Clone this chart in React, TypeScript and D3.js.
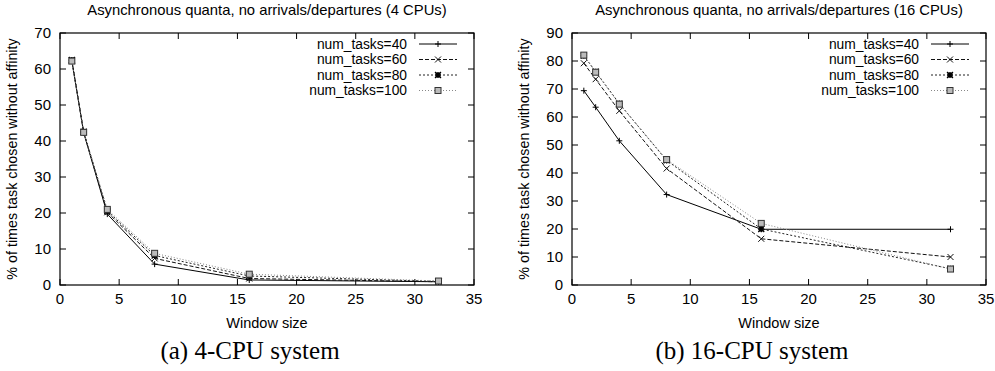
import * as d3 from "d3"

// window sizes on the x axis
const windowSizes = [1, 2, 4, 8, 16, 32]
const taskLabels = ["num_tasks=40", "num_tasks=60", "num_tasks=80", "num_tasks=100"]

// 4 CPUs
const cpu4Tasks40 = [62.3, 42.3, 19.7, 5.8, 1.4, 0.9]
const cpu4Tasks60 = [62.4, 42.5, 20.2, 7.4, 1.8, 0.9]
const cpu4Tasks80 = [62.5, 42.6, 20.6, 8.2, 2.5, 1.0]
const cpu4Tasks100 = [62.2, 42.4, 21.0, 8.8, 3.0, 1.1]

// 16 CPUs
const cpu16Tasks40 = [69.4, 63.5, 51.5, 32.3, 19.9, 19.9]
const cpu16Tasks60 = [79.2, 73.5, 62.2, 41.6, 16.5, 10.0]
const cpu16Tasks80 = [81.9, 76.2, 64.8, 44.5, 20.0, 5.8]
const cpu16Tasks100 = [82.1, 76.0, 64.6, 44.8, 22.0, 5.7]

const xTicks = [0, 5, 10, 15, 20, 25, 30, 35]
const yTicks4 = [0, 10, 20, 30, 40, 50, 60, 70]
const yTicks16 = [0, 10, 20, 30, 40, 50, 60, 70, 80, 90]

const sans = "'Liberation Sans', Arial, Helvetica, sans-serif"
const serif = "'Liberation Serif', 'Times New Roman', serif"

const styles = [
  { stroke: "#000", dash: "none", marker: "plus" },
  { stroke: "#111", dash: "4,2", marker: "cross" },
  { stroke: "#222", dash: "2,2", marker: "star" },
  { stroke: "#888", dash: "1,2", marker: "box" },
]

function Marker({ kind, x, y, color }: { kind: string; x: number; y: number; color: string }) {
  const s = 3
  if (kind === "plus")
    return <path d={`M${x - s},${y}H${x + s}M${x},${y - s}V${y + s}`} stroke={color} strokeWidth={1} />
  if (kind === "cross")
    return <path d={`M${x - s},${y - s}L${x + s},${y + s}M${x - s},${y + s}L${x + s},${y - s}`} stroke={color} strokeWidth={1} />
  if (kind === "star")
    return (
      <g>
        <rect x={x - 2.5} y={y - 2.5} width={5} height={5} fill="#222" />
        <path
          d={`M${x - s},${y}H${x + s}M${x},${y - s}V${y + s}M${x - s},${y - s}L${x + s},${y + s}M${x - s},${y + s}L${x + s},${y - s}`}
          stroke="#000"
          strokeWidth={1.2}
        />
      </g>
    )
  return <rect x={x - s} y={y - s} width={2 * s} height={2 * s} fill="#bbb" stroke="#333" strokeWidth={1} />
}

interface PanelProps {
  left: number
  series: number[][]
  yTicks: number[]
  title: string
  caption: string
  captionX: number
}

function Panel({ left, series, yTicks, title, caption, captionX }: PanelProps) {
  const top = 33
  const bottom = 285
  const right = left + 414
  const tick = 6

  const x = d3.scaleLinear().domain([0, 35]).range([left, right])
  const y = d3.scaleLinear().domain([0, yTicks[yTicks.length - 1]]).range([bottom, top])

  const line = d3
    .line<number>()
    .x((_, i) => x(windowSizes[i]))
    .y(d => y(d))

  const midX = (left + right) / 2

  return (
    <g>
      <text x={midX} y={15} textAnchor="middle" fontFamily={sans} fontSize={14.8}>
        {title}
      </text>

      {/* ticks, mirrored on all sides */}
      {yTicks.map(t => (
        <g key={"y" + t}>
          <line x1={left} x2={left + tick} y1={y(t)} y2={y(t)} stroke="#000" />
          <line x1={right} x2={right - tick} y1={y(t)} y2={y(t)} stroke="#000" />
          <text x={left - 9} y={y(t) + 5} textAnchor="end" fontFamily={sans} fontSize={15}>
            {t}
          </text>
        </g>
      ))}
      {xTicks.map(t => (
        <g key={"x" + t}>
          <line x1={x(t)} x2={x(t)} y1={bottom} y2={bottom - tick} stroke="#000" />
          <line x1={x(t)} x2={x(t)} y1={top} y2={top + tick} stroke="#000" />
          <text x={x(t)} y={304} textAnchor="middle" fontFamily={sans} fontSize={15}>
            {t}
          </text>
        </g>
      ))}

      <rect x={left} y={top} width={right - left} height={bottom - top} fill="none" stroke="#000" strokeWidth={1.2} />

      <text x={midX} y={328} textAnchor="middle" fontFamily={sans} fontSize={14.5}>
        Window size
      </text>
      <text
        transform={`translate(${left - 43},${(top + bottom) / 2}) rotate(-90)`}
        textAnchor="middle"
        fontFamily={sans}
        fontSize={14.3}
      >
        % of times task chosen without affinity
      </text>

      {series.map((vals, si) => (
        <g key={si}>
          <path d={line(vals) || ""} fill="none" stroke={styles[si].stroke} strokeWidth={1} strokeDasharray={styles[si].dash} />
          {vals.map((v, i) => (
            <Marker key={i} kind={styles[si].marker} x={x(windowSizes[i])} y={y(v)} color={styles[si].stroke} />
          ))}
        </g>
      ))}

      {/* legend */}
      {taskLabels.map((label, i) => {
        const ly = 44 + i * 15.5
        return (
          <g key={label}>
            <text x={right - 67} y={ly + 4.5} textAnchor="end" fontFamily={sans} fontSize={13.8}>
              {label}
            </text>
            <line x1={right - 55} x2={right - 17} y1={ly} y2={ly} stroke={styles[i].stroke} strokeDasharray={styles[i].dash} />
            <Marker kind={styles[i].marker} x={right - 36} y={ly} color={styles[i].stroke} />
          </g>
        )
      })}

      <text x={captionX} y={359} textAnchor="middle" fontFamily={serif} fontSize={25}>
        {caption}
      </text>
    </g>
  )
}

export default function App() {
  return (
    <svg width={995} height={371} style={{ position: "absolute", left: 0, top: 0, background: "#fff" }}>
      <rect width={995} height={371} fill="#fff" />
      <Panel
        left={60}
        series={[cpu4Tasks40, cpu4Tasks60, cpu4Tasks80, cpu4Tasks100]}
        yTicks={yTicks4}
        title="Asynchronous quanta, no arrivals/departures (4 CPUs)"
        caption="(a) 4-CPU system"
        captionX={250}
      />
      <Panel
        left={572}
        series={[cpu16Tasks40, cpu16Tasks60, cpu16Tasks80, cpu16Tasks100]}
        yTicks={yTicks16}
        title="Asynchronous quanta, no arrivals/departures (16 CPUs)"
        caption="(b) 16-CPU system"
        captionX={752}
      />
    </svg>
  )
}
